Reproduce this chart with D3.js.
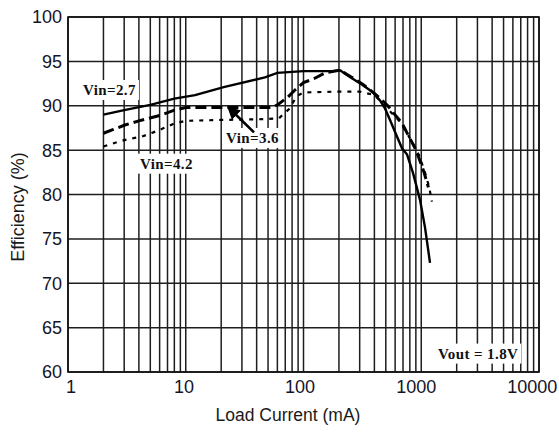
<!DOCTYPE html>
<html>
<head>
<meta charset="utf-8">
<script src="https://cdn.jsdelivr.net/npm/d3@7"></script>
<style>
  html, body { margin: 0; padding: 0; background: #fff; }
  svg { display: block; }
</style>
</head>
<body>
<svg id="chart" width="559" height="432"></svg>
<script>
// 資料：負載電流 (mA) 與效率 (%)
const vin27 = [
  [2, 89.0], [3, 89.5], [5, 90.1], [8, 90.8], [12, 91.2], [21, 92.1], [47, 93.2],
  [60, 93.7], [100, 93.9], [175, 93.9], [204, 94.0], [250, 93.2], [320, 92.3],
  [390, 91.5], [446, 90.6], [492, 89.7], [543, 88.4], [623, 86.5], [687, 85.2],
  [758, 84.5], [852, 82.4], [976, 79.4], [1076, 76.3], [1187, 72.3]
];
const vin36 = [
  [2, 86.9], [2.4, 87.3], [3, 87.8], [4, 88.3], [6, 88.9], [8, 89.5], [10, 89.8],
  [20, 89.8], [54, 89.8], [60, 90.1], [74, 91.0], [85, 91.8], [100, 92.6],
  [125, 93.1], [152, 93.7], [204, 94.0], [250, 93.3], [320, 92.4], [400, 91.4],
  [450, 90.8], [520, 90.0], [580, 89.2], [690, 88.0], [780, 86.6], [880, 85.3],
  [950, 84.2], [1050, 82.6], [1150, 80.8]
];
const vin42 = [
  [2, 85.4], [2.6, 85.9], [3.4, 86.3], [4.2, 86.5], [5.3, 87.0], [6.3, 87.4],
  [8, 88.0], [10, 88.3], [20, 88.4], [50, 88.5], [62, 88.6], [75, 89.6],
  [88, 91.1], [100, 91.5], [200, 91.6], [300, 91.6], [400, 91.2], [470, 90.3],
  [550, 89.3], [650, 88.3], [750, 87.0], [860, 85.6], [960, 84.4], [1080, 82.4],
  [1170, 80.8], [1230, 79.2]
];

const xTicks = [1, 10, 100, 1000, 10000];
const yTicks = [60, 65, 70, 75, 80, 85, 90, 95, 100];

// 標註（資料座標）
const labels = [
  { text: "Vin=2.7", x: 1.34, y: 91.8 },
  { text: "Vin=3.6", x: 22, y: 86.4 },
  { text: "Vin=4.2", x: 4.09, y: 83.5 },
  { text: "Vout = 1.8V", x: 1387, y: 62.1 }
];
const arrowFrom = [38, 87.0];
const arrowTo = [23.3, 89.75];

const svg = d3.select("#chart");
const mLeft = 68, mTop = 17, mRight = 539, mBottom = 372;

const x = d3.scaleLog().domain([1, 10000]).range([mLeft, mRight]);
const y = d3.scaleLinear().domain([60, 100]).range([mBottom, mTop]);

// 格線
const minor = [];
for (let d = 1; d < 10000; d *= 10) {
  for (let k = 1; k <= 9; k++) minor.push(d * k);
}
minor.push(10000);

const grid = svg.append("g");
grid.selectAll("line.v")
  .data(minor)
  .join("line")
  .attr("class", "v")
  .attr("x1", (d) => x(d)).attr("x2", (d) => x(d))
  .attr("y1", mTop).attr("y2", mBottom)
  .attr("stroke", "#1e1e1e")
  .attr("stroke-width", 1.5);

grid.selectAll("line.h")
  .data(yTicks)
  .join("line")
  .attr("class", "h")
  .attr("x1", mLeft).attr("x2", mRight)
  .attr("y1", (d) => y(d)).attr("y2", (d) => y(d))
  .attr("stroke", "#1e1e1e")
  .attr("stroke-width", 1.5);

svg.append("rect")
  .attr("x", mLeft).attr("y", mTop)
  .attr("width", mRight - mLeft).attr("height", mBottom - mTop)
  .attr("fill", "none")
  .attr("stroke", "#111")
  .attr("stroke-width", 1.6);

// 軸標籤
svg.append("g")
  .selectAll("text")
  .data(yTicks)
  .join("text")
  .attr("x", mLeft - 6)
  .attr("y", (d) => y(d))
  .attr("dy", "0.36em")
  .attr("text-anchor", "end")
  .attr("font-family", "Liberation Sans, Arial, sans-serif")
  .attr("font-size", 18)
  .attr("fill", "#141428")
  .text((d) => d);

svg.append("g")
  .selectAll("text")
  .data(xTicks)
  .join("text")
  .attr("x", (d) => x(d) - (String(d).length - 1) * 1.7 + (d === 1 ? 3 : 0))
  .attr("y", 393)
  .attr("text-anchor", "middle")
  .attr("font-family", "Liberation Sans, Arial, sans-serif")
  .attr("font-size", 18)
  .attr("fill", "#141428")
  .text((d) => d);

svg.append("text")
  .attr("x", 288)
  .attr("y", 421)
  .attr("text-anchor", "middle")
  .attr("font-family", "Liberation Sans, Arial, sans-serif")
  .attr("font-size", 17.5)
  .attr("fill", "#1a1a1a")
  .text("Load Current (mA)");

svg.append("text")
  .attr("transform", "translate(24, 207) rotate(-90)")
  .attr("text-anchor", "middle")
  .attr("font-family", "Liberation Sans, Arial, sans-serif")
  .attr("font-size", 18)
  .attr("fill", "#1a1a1a")
  .text("Efficiency (%)");

// 曲線
const line = d3.line().x((d) => x(d[0])).y((d) => y(d[1]));
const curves = svg.append("g").attr("fill", "none").attr("stroke", "#000");

curves.append("path").datum(vin42)
  .attr("d", line)
  .attr("stroke-width", 2.2)
  .attr("stroke-dasharray", "4,6");

curves.append("path").datum(vin36)
  .attr("d", line)
  .attr("stroke-width", 3)
  .attr("stroke-dasharray", "11,5");

curves.append("path").datum(vin27)
  .attr("d", line)
  .attr("stroke-width", 2.4);

// 標註文字（白底）
const ann = svg.append("g");
labels.forEach((l) => {
  const g = ann.append("g");
  const t = g.append("text")
    .attr("x", x(l.x))
    .attr("y", y(l.y))
    .attr("dy", "0.35em")
    .attr("font-family", "Liberation Serif, Times New Roman, serif")
    .attr("font-weight", "bold")
    .attr("font-size", 15)
    .attr("letter-spacing", 0.4)
    .attr("fill", "#111")
    .text(l.text);
  const b = t.node().getBBox();
  g.insert("rect", "text")
    .attr("x", b.x - 3).attr("y", b.y - 2)
    .attr("width", b.width + 6).attr("height", b.height + 4)
    .attr("fill", "#fff");
});

// 箭頭
svg.append("defs").append("marker")
  .attr("id", "head")
  .attr("viewBox", "0 0 10 10")
  .attr("refX", 8).attr("refY", 5)
  .attr("markerWidth", 5).attr("markerHeight", 5)
  .attr("orient", "auto")
  .append("path")
  .attr("d", "M0,0L10,5L0,10z")
  .attr("fill", "#000");

svg.append("line")
  .attr("x1", x(arrowFrom[0])).attr("y1", y(arrowFrom[1]))
  .attr("x2", x(arrowTo[0])).attr("y2", y(arrowTo[1]))
  .attr("stroke", "#000")
  .attr("stroke-width", 2.6)
  .attr("marker-end", "url(#head)");
</script>
</body>
</html>
